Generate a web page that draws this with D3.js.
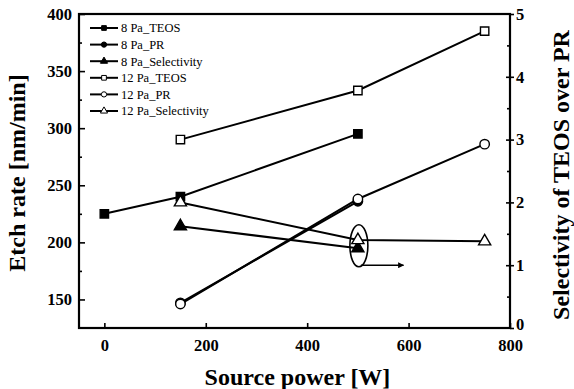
<!DOCTYPE html>
<html>
<head>
<meta charset="utf-8">
<script src="https://cdn.jsdelivr.net/npm/d3@7"></script>
<style>
  html, body { margin: 0; padding: 0; background: #fff; }
  svg { display: block; }
  text { font-family: "Liberation Serif", "Times New Roman", serif; fill: #000; }
</style>
</head>
<body>
<div id="chart"></div>
<script>
// source power [W]
const power8Teos = [0, 150, 500];
const power8 = [150, 500];
const power12 = [150, 500, 750];

// etch rates [nm/min]
const teos8 = [225, 240, 295];
const pr8 = [147, 236];
const teos12 = [290, 333, 385];
const pr12 = [146, 238, 286];

// selectivity of TEOS over PR
const sel8 = [1.62, 1.27];
const sel12 = [2.0, 1.40, 1.38];

const xTicks = [0, 200, 400, 600, 800];
const leftTicks = [150, 200, 250, 300, 350, 400];
const leftMinor = [175, 225, 275, 325, 375];
const rightTicks = [0, 1, 2, 3, 4, 5];
const rightMinor = [0.5, 1.5, 2.5, 3.5, 4.5];

const legendLabels = ['8 Pa_TEOS', '8 Pa_PR', '8 Pa_Selectivity', '12 Pa_TEOS', '12 Pa_PR', '12 Pa_Selectivity'];

// ellipse around the 500 W selectivity points, arrow towards the right axis
const markPower = 500;
const markSel = 1.31;
const arrowSel = 1.0;
const arrowEnd = 590;

const width = 574, height = 389;
const margin = { top: 14, right: 64, bottom: 61, left: 79 };

const svg = d3.select('#chart').append('svg')
  .attr('width', width)
  .attr('height', height);

const x = d3.scaleLinear().domain([-50, 800]).range([margin.left, width - margin.right]);
const yL = d3.scaleLinear().domain([125, 400]).range([height - margin.bottom, margin.top]);
const yR = d3.scaleLinear().domain([0, 5]).range([height - margin.bottom, margin.top]);

const x0 = margin.left, x1 = width - margin.right;
const y0 = height - margin.bottom, y1 = margin.top;

// axes
const fmtTicks = g => {
  g.attr('font-family', null).attr('font-size', null);
  g.select('.domain').remove();
  g.selectAll('line').attr('stroke', '#000').attr('stroke-width', 1.6);
  g.selectAll('text')
    .attr('font-size', '16.5px')
    .attr('font-weight', 'bold');
};

svg.append('g')
  .attr('transform', `translate(0,${y0})`)
  .call(d3.axisBottom(x).tickValues(xTicks).tickSize(-5).tickSizeOuter(0).tickPadding(11))
  .call(fmtTicks);

svg.append('g')
  .attr('transform', `translate(${x0},0)`)
  .call(d3.axisLeft(yL).tickValues(leftTicks).tickSize(-6).tickSizeOuter(0).tickPadding(7))
  .call(fmtTicks);

svg.append('g')
  .attr('transform', `translate(${x0},0)`)
  .call(d3.axisLeft(yL).tickValues(leftMinor).tickSize(-3).tickSizeOuter(0).tickFormat(''))
  .call(fmtTicks);

const rightAxis = svg.append('g')
  .attr('transform', `translate(${x1},0)`)
  .call(d3.axisRight(yR).tickValues(rightTicks).tickFormat(d3.format('d')).tickSize(4).tickSizeOuter(0).tickPadding(2))
  .call(fmtTicks);

// the "0" label sits a bit higher so it clears the "800" below it
rightAxis.selectAll('.tick text').filter(d => d === 0).attr('dy', '0.1em');

svg.append('g')
  .attr('transform', `translate(${x1},0)`)
  .call(d3.axisRight(yR).tickValues(rightTicks.slice(1, -1)).tickSize(-4).tickSizeOuter(0).tickFormat(''))
  .call(fmtTicks);

svg.append('g')
  .attr('transform', `translate(${x1},0)`)
  .call(d3.axisRight(yR).tickValues(rightMinor).tickSize(-3).tickSizeOuter(0).tickFormat(''))
  .call(fmtTicks);

// frame
svg.append('rect')
  .attr('x', x0).attr('y', y1)
  .attr('width', x1 - x0).attr('height', y0 - y1)
  .attr('fill', 'none')
  .attr('stroke', '#000')
  .attr('stroke-width', 2.2);

// axis titles
svg.append('text')
  .attr('x', (x0 + x1) / 2 + 3)
  .attr('y', 385)
  .attr('text-anchor', 'middle')
  .attr('font-size', '24px')
  .attr('font-weight', 'bold')
  .text('Source power [W]');

svg.append('text')
  .attr('transform', `translate(25,${(y0 + y1) / 2 + 2}) rotate(-90)`)
  .attr('text-anchor', 'middle')
  .attr('font-size', '24px')
  .attr('font-weight', 'bold')
  .text('Etch rate [nm/min]');

svg.append('text')
  .attr('transform', `translate(569,${(y0 + y1) / 2 + 4}) rotate(-90)`)
  .attr('text-anchor', 'middle')
  .attr('font-size', '24px')
  .attr('font-weight', 'bold')
  .text('Selectivity of TEOS over PR');

// series
const series = [
  { name: legendLabels[0], xs: power8Teos, ys: teos8, scale: yL, shape: 'square', filled: true },
  { name: legendLabels[1], xs: power8, ys: pr8, scale: yL, shape: 'circle', filled: true },
  { name: legendLabels[2], xs: power8, ys: sel8, scale: yR, shape: 'triangle', filled: true },
  { name: legendLabels[3], xs: power12, ys: teos12, scale: yL, shape: 'square', filled: false },
  { name: legendLabels[4], xs: power12, ys: pr12, scale: yL, shape: 'circle', filled: false },
  { name: legendLabels[5], xs: power12, ys: sel12, scale: yR, shape: 'triangle', filled: false }
];

const symbolOf = { square: d3.symbolSquare, circle: d3.symbolCircle, triangle: d3.symbolTriangle };
const sizeOf = { square: 70, circle: 70, triangle: 64 };

const line = d3.line();

svg.append('g').selectAll('path')
  .data(series)
  .enter()
  .append('path')
  .attr('d', s => line(s.xs.map((v, i) => [x(v), s.scale(s.ys[i])])))
  .attr('fill', 'none')
  .attr('stroke', '#000')
  .attr('stroke-width', 2);

series.forEach(s => {
  svg.append('g').selectAll('path')
    .data(s.xs.map((v, i) => [v, s.ys[i]]))
    .enter()
    .append('path')
    .attr('transform', d => `translate(${x(d[0])},${s.scale(d[1])})`)
    .attr('d', d3.symbol(symbolOf[s.shape], sizeOf[s.shape]))
    .attr('fill', s.filled ? '#000' : '#fff')
    .attr('stroke', '#000')
    .attr('stroke-width', 1.4);
});

// annotation
svg.append('defs').append('marker')
  .attr('id', 'arrow')
  .attr('viewBox', '0 0 10 10')
  .attr('refX', 9).attr('refY', 5)
  .attr('markerWidth', 9).attr('markerHeight', 6)
  .attr('markerUnits', 'userSpaceOnUse')
  .attr('orient', 'auto')
  .append('path')
  .attr('d', 'M0,0 L10,5 L0,10 Z')
  .attr('fill', '#000');

svg.append('ellipse')
  .attr('cx', x(markPower) + 1)
  .attr('cy', yR(markSel))
  .attr('rx', 9)
  .attr('ry', 21)
  .attr('fill', 'none')
  .attr('stroke', '#000')
  .attr('stroke-width', 1.6);

svg.append('line')
  .attr('x1', x(markPower) + 3)
  .attr('y1', yR(arrowSel))
  .attr('x2', x(arrowEnd))
  .attr('y2', yR(arrowSel))
  .attr('stroke', '#000')
  .attr('stroke-width', 1.6)
  .attr('marker-end', 'url(#arrow)');

// legend
const legend = svg.append('g')
  .attr('class', 'legend')
  .attr('transform', 'translate(90, 28)');

const items = legend.selectAll('.legend-item')
  .data(series)
  .enter()
  .append('g')
  .attr('class', 'legend-item')
  .attr('transform', (d, i) => `translate(0, ${i * 16.6})`);

items.append('line')
  .attr('x1', 0).attr('x2', 28)
  .attr('y1', 0).attr('y2', 0)
  .attr('stroke', '#000')
  .attr('stroke-width', 2);

items.append('path')
  .attr('transform', 'translate(14,0)')
  .attr('d', d => d3.symbol(symbolOf[d.shape], 22)())
  .attr('fill', d => d.filled ? '#000' : '#fff')
  .attr('stroke', '#000')
  .attr('stroke-width', 1);

items.append('text')
  .attr('x', 31)
  .attr('y', 0)
  .attr('dy', '0.35em')
  .attr('font-size', '12.5px')
  .text(d => d.name);
</script>
</body>
</html>
